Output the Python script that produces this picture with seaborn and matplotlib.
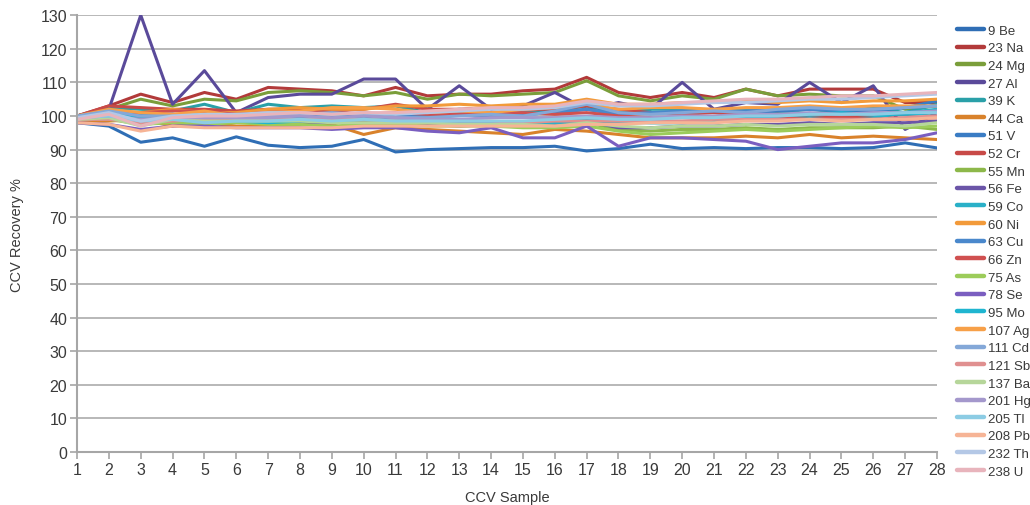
import matplotlib
matplotlib.use("Agg")
import matplotlib.pyplot as plt
import seaborn as sns
import pandas as pd

# CCV sample numbers
samples = list(range(1, 29))

# Recovery (%) per isotope across the 28 CCV samples
be9 = [98, 97, 92.2, 93.5, 91, 93.8, 91.3, 90.6, 91, 93, 89.3, 90, 90.3, 90.6, 90.6, 91, 89.6, 90.3, 91.6, 90.3, 90.6, 90.3, 90.6, 90.6, 90.3, 90.6, 92, 90.5]
na23 = [100, 103, 106.5, 104, 107, 105, 108.5, 108, 107.5, 106, 108.5, 106, 106.5, 106.5, 107.5, 108, 111.5, 107, 105.5, 107, 105.5, 108, 106, 108, 108, 108, 104, 104]
mg24 = [100, 102, 105, 103, 105, 104.5, 107, 107.5, 107, 106, 107, 105, 106.5, 106, 106.5, 107, 110.5, 106, 104.5, 106, 105, 108, 106, 106.5, 106, 106, 102, 103]
al27 = [100, 102, 130, 103.5, 113.5, 101, 105.5, 106.5, 106.5, 111, 111, 102, 109, 102, 103, 107, 102, 104, 102, 110, 102, 104, 103.5, 110, 104, 109, 96, 101]
k39 = [100, 102.5, 102, 101.5, 103.5, 101, 103.5, 102.5, 103, 102.5, 103, 101, 102, 101, 101, 101.5, 103, 101, 102, 102, 101, 102, 101, 102, 101, 102.5, 101, 103.5]
ca44 = [98, 98.5, 99, 97, 98, 97, 97, 97.5, 97.5, 94.5, 96.5, 96, 95.5, 95, 94.5, 96, 95.5, 94.5, 93.5, 93.5, 93.5, 94, 93.5, 94.5, 93.5, 94, 93.5, 93]
v51 = [100, 101, 100.5, 100, 99.5, 100.5, 100.5, 101, 100, 101, 100, 100.5, 101, 101, 100.5, 101, 102, 100.5, 101, 101, 101.5, 101, 101.5, 102, 101.5, 101.5, 102.5, 104.5]
cr52 = [100, 103, 102.5, 102, 102, 101.5, 102, 102, 101.5, 102, 103.5, 102, 102, 102.5, 102, 102, 103, 102, 101, 100.5, 101, 100, 100.5, 100, 100, 100, 100.5, 101]
mn55 = [99, 99.5, 98.5, 99, 99, 98.5, 98.5, 98.5, 98, 98.5, 98, 97.5, 97, 97.5, 97, 97.5, 98, 96, 95.5, 96, 96, 96.5, 96, 96.5, 96.5, 96.5, 97, 96]
fe56 = [99.5, 99, 98.5, 98, 98, 98.5, 98.5, 98, 98, 98.5, 98, 97.5, 97, 97.5, 97, 97.5, 98.5, 96.5, 96.5, 97, 97, 97.5, 97.5, 98, 97.5, 98, 98, 98.5]
co59 = [100, 101, 100, 100, 100.5, 99.5, 100, 99.5, 100, 100, 99.5, 98.5, 98, 98, 97.5, 98, 98.5, 98, 98, 98, 98.5, 99, 99, 99.5, 99, 99.5, 101, 102]
ni60 = [100, 101.5, 101, 102, 101, 101, 102, 102.5, 102, 102, 103, 103, 103.5, 103, 103.5, 103.5, 105, 103.5, 103.5, 104, 104, 104.5, 104, 104.5, 104, 104.5, 104.5, 105]
cu63 = [100, 100.5, 100, 100, 100, 100, 100, 100, 99.5, 100, 99.5, 100, 100.5, 100, 100.5, 101, 102, 100.5, 101, 101.5, 101.5, 101.5, 102, 102, 102, 102, 102.5, 103]
zn66 = [99.5, 101, 101, 101.5, 101.5, 100.5, 101, 101, 101, 100.5, 101, 100.5, 100.5, 101, 101, 100.5, 101, 100, 99.5, 99.5, 99.5, 99.5, 99.5, 99, 99.5, 99, 99, 99.5]
as75 = [99, 99, 97.5, 98, 97.5, 98, 97.5, 97.5, 97, 97.5, 97.5, 97, 97, 97, 96.5, 96.5, 97, 95.5, 94.5, 95, 95.5, 96, 95.5, 96, 96.5, 97, 96.5, 97]
se78 = [98, 97.5, 96, 97, 97, 96.5, 96.5, 96.5, 96, 96.5, 96.5, 95.5, 95, 96.5, 93.5, 93.5, 97, 91, 93.5, 93.5, 93, 92.5, 90, 91, 92, 92, 93, 95]
mo95 = [100, 101, 99.5, 99, 98.5, 98.5, 98, 98.5, 98.5, 99, 98.5, 98.5, 97.5, 98, 98, 98.5, 99, 98.5, 98, 98, 98.5, 99.5, 100, 100.5, 101, 100.5, 100.5, 101]
ag107 = [100, 102, 101, 100.5, 101.5, 100, 101, 101.5, 102.5, 102.5, 102, 101, 101.5, 101, 102, 102.5, 103.5, 102, 102.5, 102.5, 102, 102.5, 102.5, 103, 102.5, 103, 103, 103]
cd111 = [100, 101.5, 100, 100, 100, 100, 100, 100.5, 101, 100.5, 99.5, 99.5, 100, 100.5, 100, 101.5, 103.5, 101, 100.5, 101, 101.5, 101, 102, 102.5, 102, 102, 102.5, 103]
sb121 = [99, 99, 98, 98.5, 99, 99, 99, 99, 99, 99, 98.5, 98.5, 98.5, 98.5, 98, 98.5, 98.5, 98.5, 98.5, 98.5, 99, 99, 99, 99, 99, 99, 99.5, 100]
ba137 = [99, 99.5, 97, 99, 98.5, 98.5, 98.5, 98.5, 98, 98, 98, 98, 97.5, 97.5, 97.5, 97, 98, 97, 96.5, 97, 97, 97.5, 97, 97.5, 97.5, 97.5, 97, 98]
hg201 = [99.5, 100, 99, 99.5, 99.5, 99.5, 99.5, 100, 99.5, 100, 99.5, 99, 99, 99.5, 99.5, 99.5, 100, 99.5, 99.5, 100, 100, 100.5, 100.5, 101, 100.5, 101, 101, 101.5]
tl205 = [99.5, 100, 98.5, 99, 98, 98.5, 98.5, 99, 98.5, 99, 98.5, 98.5, 98.5, 98.5, 98.5, 99, 99.5, 99, 99, 99.5, 99.5, 100, 100, 100.5, 100.5, 100.5, 101, 101]
pb208 = [98, 97.5, 95.5, 97, 96.5, 96.5, 96.5, 96.5, 96.5, 97, 97, 97, 97, 97, 97, 97, 97.5, 97.5, 98, 98, 98, 98.5, 98.5, 99, 98.5, 99, 99, 99.5]
th232 = [99.5, 101, 98.5, 100, 100.5, 100.5, 101, 101, 100.5, 101, 100.5, 101, 101.5, 102, 102, 102.5, 104, 103, 103, 103.5, 104, 104, 104.5, 105, 105, 105.5, 106, 106.5]
u238 = [99, 100.5, 97, 99.5, 100, 100, 100.5, 101, 100.5, 101, 101, 101.5, 102, 102.5, 102.5, 103, 104.5, 103.5, 103.5, 104, 104.5, 105, 105, 105.5, 106, 106, 106.5, 107]

isotopes = ["9 Be", "23 Na", "24 Mg", "27 Al", "39 K", "44 Ca", "51 V", "52 Cr", "55 Mn",
            "56 Fe", "59 Co", "60 Ni", "63 Cu", "66 Zn", "75 As", "78 Se", "95 Mo",
            "107 Ag", "111 Cd", "121 Sb", "137 Ba", "201 Hg", "205 Tl", "208 Pb",
            "232 Th", "238 U"]
series = [be9, na23, mg24, al27, k39, ca44, v51, cr52, mn55, fe56, co59, ni60, cu63,
          zn66, as75, se78, mo95, ag107, cd111, sb121, ba137, hg201, tl205, pb208,
          th232, u238]

colors = ["#2f6eb5", "#b23a3a", "#7a9e3a", "#5a4a9a", "#2aa0a8", "#d9822b", "#3a7cc4",
          "#c84a47", "#8db84a", "#6b55a8", "#2ab0c8", "#f29a3a", "#4a88cc", "#d05050",
          "#9ccc5a", "#7a5ec0", "#1fb5d0", "#f7a048", "#84a8d8", "#e09090", "#b6d69a",
          "#a498cc", "#8ccce4", "#f6b496", "#b4c8e6", "#e8b4bc"]

rows = []
for name, vals in zip(isotopes, series):
    for s, v in zip(samples, vals):
        rows.append({"sample": s, "recovery": v, "isotope": name})
df = pd.DataFrame(rows)

sns.set_theme(style="white")
plt.rcParams["font.family"] = ["Liberation Sans", "DejaVu Sans"]

fig = plt.figure(figsize=(10.30, 5.06), dpi=100)
ax = fig.add_axes([0.0748, 0.1047, 0.8349, 0.8633])

sns.lineplot(data=df, x="sample", y="recovery", hue="isotope", hue_order=isotopes,
             palette=colors, linewidth=2.2, ax=ax, legend=True)

ax.set_xlim(1, 28)
ax.set_ylim(0, 130)
ax.set_xticks(samples)
ax.set_yticks(range(0, 131, 10))
ax.yaxis.grid(True, color="#ababab", linewidth=1.2)
ax.set_axisbelow(True)
for side in ("top", "right"):
    ax.spines[side].set_visible(False)
for side in ("left", "bottom"):
    ax.spines[side].set_color("#a6a6a6")
    ax.spines[side].set_linewidth(1.5)
ax.tick_params(axis="both", which="both", direction="out", length=5, width=1.2,
               color="#a6a6a6", labelsize=11.5, labelcolor="#3a3a3a", pad=2,
               bottom=True, left=True)

ax.set_xlabel("CCV Sample", fontsize=10.5, color="#3a3a3a")
ax.set_ylabel("CCV Recovery %", fontsize=10.5, color="#3a3a3a")
ax.xaxis.set_label_coords(0.5, -0.088)
ax.yaxis.set_label_coords(-0.062, 0.5)

handles, labels = ax.get_legend_handles_labels()
leg = ax.legend(handles, labels, loc="upper left", bbox_to_anchor=(1.023, 0.979),
                frameon=False, fontsize=9.5, handlelength=2.1, handletextpad=0.3,
                labelspacing=0.41, borderaxespad=0, borderpad=0)
for line in leg.get_lines():
    line.set_linewidth(3.2)
for t in leg.get_texts():
    t.set_color("#3a3a3a")

fig.savefig("out.png", dpi=100)
